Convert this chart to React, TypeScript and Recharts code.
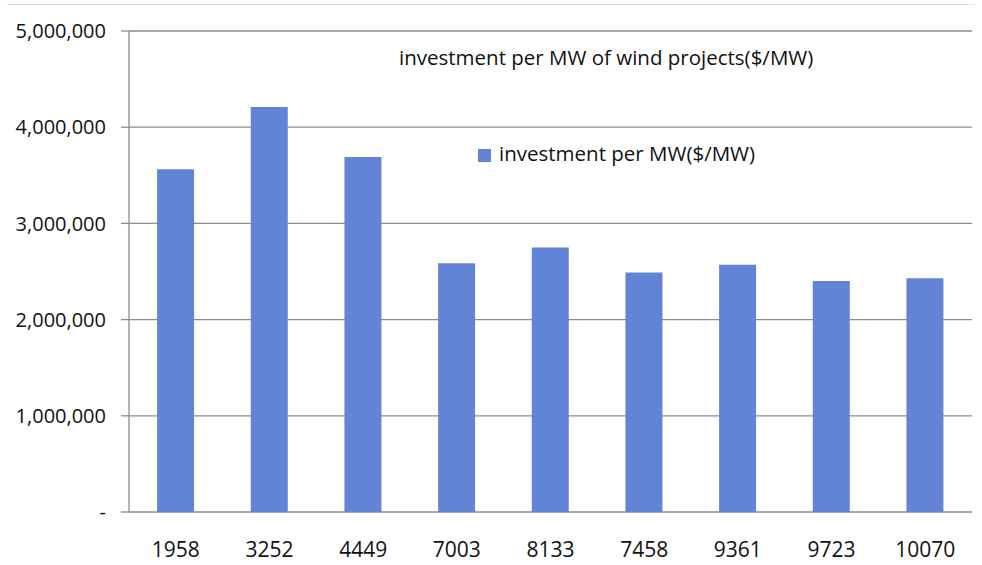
import React from 'react'
import { BarChart, Bar, XAxis, YAxis, CartesianGrid, Legend } from 'recharts'

const capacities = ['1958', '3252', '4449', '7003', '8133', '7458', '9361', '9723', '10070']
const investmentPerMW = [3562000, 4210000, 3690000, 2586000, 2750000, 2490000, 2570000, 2400000, 2430000]
const yTicks = [0, 1000000, 2000000, 3000000, 4000000, 5000000]
const boundaryTicks = [0, 1, 2, 3, 4, 5, 6, 7, 8, 9]

const data = capacities.map((name, i) => ({ name, value: investmentPerMW[i] }))

const FONT = '"Open Sans", Calibri, sans-serif'
const GRID = '#8c8c8c'
const BAR = '#6283D6'

const formatY = (v: number) => (v === 0 ? '-' : v.toLocaleString('en-US'))

export default function App() {
  return (
    <div style={{ position: 'absolute', left: 0, top: 0, width: 982, height: 565, background: '#fff', fontFamily: FONT }}>
      <div style={{ position: 'absolute', left: 7, top: 4, width: 968, borderTop: '1px solid #dcdcdc' }} />
      <div style={{ position: 'absolute', left: 399, top: 42, fontSize: 20.5, lineHeight: '30px', color: '#111', whiteSpace: 'nowrap' }}>
        investment per MW of wind projects($/MW)
      </div>
      <BarChart
        width={982}
        height={565}
        data={data}
        margin={{ top: 31, right: 10, bottom: 0, left: 0 }}
        barCategoryGap="30%"
      >
        <CartesianGrid vertical={false} stroke={GRID} strokeWidth={1.3} />
        <XAxis
          xAxisId="b"
          type="number"
          domain={[0, 9]}
          ticks={boundaryTicks}
          height={0}
          tick={false}
          tickSize={8}
          axisLine={{ stroke: GRID, strokeWidth: 1.3 }}
          tickLine={{ stroke: GRID, strokeWidth: 1.3 }}
          allowDataOverflow
        />
        <XAxis
          dataKey="name"
          height={53}
          tickLine={false}
          axisLine={false}
          tickSize={8}
          tickMargin={22}
          tick={{ fill: '#111', fontSize: 21, fontFamily: FONT }}
          interval={0}
        />
        <YAxis
          width={129}
          domain={[0, 5000000]}
          ticks={yTicks}
          tickFormatter={formatY}
          tickSize={8}
          tickMargin={15}
          axisLine={{ stroke: GRID, strokeWidth: 1.3 }}
          tickLine={{ stroke: GRID, strokeWidth: 1.3 }}
          tick={{ fill: '#111', fontSize: 20, fontFamily: FONT }}
        />
        <Legend
          layout="horizontal"
          verticalAlign="middle"
          align="center"
          iconType="square"
          iconSize={13}
          wrapperStyle={{ top: 138, left: 478, width: 'auto', fontSize: 20.5, fontFamily: FONT, lineHeight: '30px', whiteSpace: 'nowrap' }}
          formatter={(v: string) => <span style={{ color: '#111', marginLeft: 4 }}>{v}</span>}
        />
        <Bar dataKey="value" name="investment per MW($/MW)" fill={BAR} isAnimationActive={false} />
      </BarChart>
    </div>
  )
}
